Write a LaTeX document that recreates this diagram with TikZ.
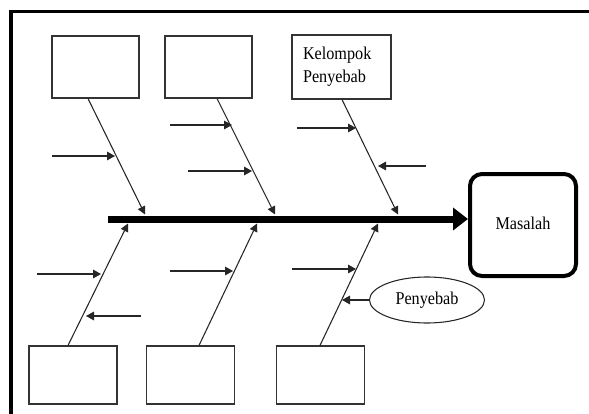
\documentclass[tikz,border=0pt]{standalone}
\usepackage{fontspec}
\setmainfont[FakeStretch=0.9]{Liberation Serif}
\usetikzlibrary{arrows.meta,shapes.geometric,calc}
\begin{document}
\begin{tikzpicture}[x=0.75pt,y=-0.75pt,
  txt/.style={font=\fontsize{13.5}{16.5}\selectfont},
  catbox/.style={draw=black!80,line width=0.8pt,minimum width=65.25pt,minimum height=46.5pt,inner sep=0pt},
  lowbox/.style={catbox,minimum width=66pt,minimum height=43.5pt},
  bone/.style={draw=black!85,line width=0.8pt,-{Triangle[length=6pt,width=6pt]}},
  cause/.style={draw=black!85,line width=0.8pt,-{Triangle[length=6pt,width=6.5pt]}}]
\useasboundingbox (0,0) rectangle (589,414);
% frame
\draw[line width=2.4pt] (589,11.5) -- (11,11.5) -- (11,414);
% category boxes
\node[catbox] (t1) at (95.5,67) {};
\node[catbox] (t2) at (208.5,67) {};
\node[catbox,minimum width=74.25pt,minimum height=48pt,txt,align=left,text width=57.75pt] (t3) at (341.5,67) {\vspace*{1pt}Kelompok\\Penyebab};
\node[lowbox] (b1) at (73,375) {};
\node[lowbox] (b2) at (190.5,375) {};
\node[lowbox] (b3) at (320.5,375) {};
% problem
\node[draw,line width=3pt,rounded corners=9pt,minimum width=79.5pt,minimum height=76.5pt,txt] (m) at (523,225) {\raisebox{3pt}{Masalah}};
% cause ellipse
\node[draw=black!85,line width=0.8pt,ellipse,minimum width=86.25pt,minimum height=34.5pt,inner sep=0pt,txt] (p) at (427,300) {Penyebab};
% spine
\coordinate (s0) at (108,219);
\draw[line width=5.25pt,-{Triangle[length=11.25pt,width=16.5pt]}] (s0) -- (s0 -| m.west);
% bone tips on spine
\coordinate (u1) at (145,214.5);
\coordinate (u2) at (275,214.5);
\coordinate (u3) at (398,214.5);
\coordinate (l1) at (128,223.5);
\coordinate (l2) at (257,223.5);
\coordinate (l3) at (378,223.5);
\draw[bone] ($(t1.south)+(-7.5,0)$) -- (u1);
\draw[bone] ($(t2.south)+(8.5,0)$) -- (u2);
\draw[bone] ($(t3.south)+(0.5,0)$) -- (u3);
\draw[bone] ($(b1.north)+(-5,0)$) -- (l1);
\draw[bone] ($(b2.north)+(8.5,0)$) -- (l2);
\draw[bone] ($(b3.north)+(-0.5,0)$) -- (l3);
% cause arrows
\coordinate (a1s) at (52,156);  \coordinate (a1e) at (115,156);
\coordinate (a2s) at (170,125); \coordinate (a2e) at (232,125);
\coordinate (a3s) at (188,171); \coordinate (a3e) at (252,171);
\coordinate (a4s) at (297,128); \coordinate (a4e) at (356,128);
\coordinate (a5s) at (426,166); \coordinate (a5e) at (378,166);
\coordinate (a6s) at (37,274);  \coordinate (a6e) at (101,274);
\coordinate (a7s) at (141,316); \coordinate (a7e) at (86,316);
\coordinate (a8s) at (170,271); \coordinate (a8e) at (233,271);
\coordinate (a9s) at (292,269); \coordinate (a9e) at (356,269);
\coordinate (a10e) at (342,300);
\foreach \i in {1,...,9} \draw[cause] (a\i s) -- (a\i e);
\draw[cause] (p.west) -- (a10e);
\end{tikzpicture}
\end{document}
